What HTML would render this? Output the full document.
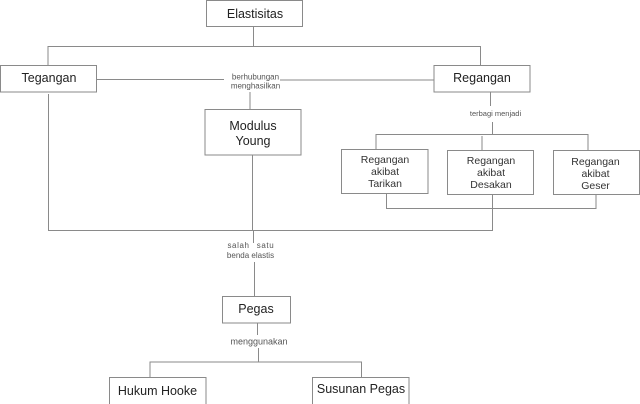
<!DOCTYPE html>
<html><head><meta charset="utf-8">
<style>
html,body{margin:0;padding:0;background:#fff;width:640px;height:404px;overflow:hidden}
svg{display:block;filter:blur(0.35px)}
text{font-family:"Liberation Sans",Arial,sans-serif;fill:#222;text-anchor:middle}
.b{font-size:12.5px}
.s{font-size:10.5px;fill:#333}
.l{font-size:8px;fill:#555}
rect{fill:#fff;stroke:#8a8a8a;stroke-width:1}
path{fill:none;stroke:#8a8a8a;stroke-width:1}
</style></head><body>
<svg width="640" height="404" viewBox="0 0 640 404" xmlns="http://www.w3.org/2000/svg">
<path d="M253.500 26V46.500M48 65V46.500H480.500V65"/>
<path d="M97 79.500H224M280 80H434"/>
<path d="M250 92V109"/>
<path d="M48.500 94V230.500H492.500V194"/>
<path d="M490.500 92V106M492.500 122V134.500M376 149V134.500H588V150M482 136V150"/>
<path d="M386.500 194V208.500H596V194"/>
<path d="M252.500 155V230.500M253.500 230.500V243M254.500 262V296"/>
<path d="M257.500 323V335M258.500 348V362M150 377V362H361.500V377"/>
<rect x="206.500" y="0.500" width="96" height="26"/>
<rect x="0.500" y="65.500" width="96" height="26.500"/>
<rect x="205" y="109.500" width="96" height="45.500"/>
<rect x="434" y="65.500" width="96" height="26.500"/>
<rect x="341.500" y="149.500" width="86.500" height="44"/>
<rect x="447.500" y="150.500" width="86" height="44"/>
<rect x="553.500" y="150.500" width="86" height="44"/>
<rect x="222.500" y="296.500" width="68" height="26.500"/>
<rect x="109.500" y="377.500" width="96.500" height="27"/>
<rect x="312.500" y="377.500" width="96.500" height="27"/>
<text class="b" x="255" y="18">Elastisitas</text>
<text class="b" x="49" y="82">Tegangan</text>
<text class="b" x="482" y="82">Regangan</text>
<text class="b" x="253" y="130">Modulus</text>
<text class="b" x="253" y="145">Young</text>
<text class="s" x="385" y="163">Regangan</text>
<text class="s" x="385" y="175">akibat</text>
<text class="s" x="385" y="187">Tarikan</text>
<text class="s" x="491" y="164">Regangan</text>
<text class="s" x="491" y="176">akibat</text>
<text class="s" x="491" y="188">Desakan</text>
<text class="s" x="595.500" y="165">Regangan</text>
<text class="s" x="595.500" y="177">akibat</text>
<text class="s" x="595.500" y="189">Geser</text>
<text class="b" x="256" y="313">Pegas</text>
<text class="b" x="157.500" y="395">Hukum Hooke</text>
<text class="b" x="361" y="393">Susunan Pegas</text>
<text class="l" x="255.500" y="79.500">berhubungan</text>
<text class="l" x="255.500" y="88.500">menghasilkan</text>
<text class="l" x="495.500" y="116" style="font-size:7.500px">terbagi menjadi</text>
<text class="l" x="238.500" y="248" style="letter-spacing:.6px">salah</text>
<text class="l" x="265.500" y="248" style="letter-spacing:.6px">satu</text>
<text class="l" x="250.500" y="258">benda elastis</text>
<text class="l" x="259" y="344.500" style="font-size:9px">menggunakan</text>
</svg>
</body></html>
